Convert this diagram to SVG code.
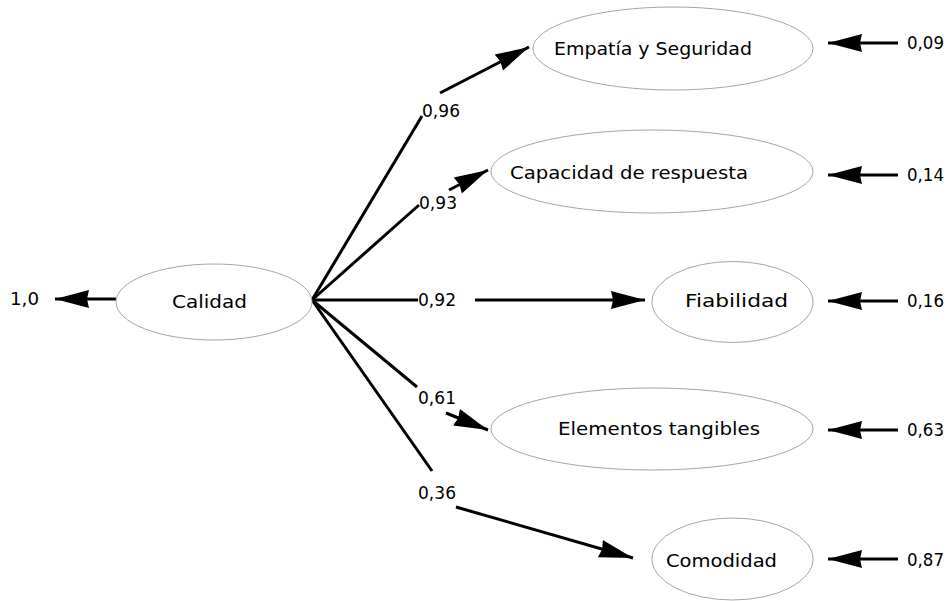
<svg xmlns="http://www.w3.org/2000/svg" width="948" height="601" viewBox="0 0 948 601">
<style>
.node{fill:#fff;stroke:#a6a6a6;stroke-width:1}
.lbl{font-family:"DejaVu Sans","Liberation Sans",sans-serif;font-size:18px;fill:#000}
.num{font-family:"DejaVu Sans","Liberation Sans",sans-serif;font-size:17px;fill:#000}
.c{stroke:#000;stroke-width:3;fill:none}
.ca{stroke:#000;stroke-width:3;fill:none;marker-end:url(#ah)}
</style>
<defs>
<marker id="ah" markerUnits="userSpaceOnUse" markerWidth="36" markerHeight="22" refX="34" refY="11" orient="auto">
<path d="M0,2 L34,11 L0,20 L2,11 Z" fill="#000"/>
</marker>
</defs>
<rect width="948" height="601" fill="#fff"/>
<g id="connectors">
<line class="c" x1="312" y1="300" x2="422" y2="116"/>
<line class="ca" x1="440" y1="93" x2="529" y2="47"/>
<line class="c" x1="312" y1="300" x2="419" y2="205"/>
<line class="ca" x1="449" y1="190" x2="488" y2="170"/>
<line class="c" x1="312" y1="300" x2="418" y2="300"/>
<line class="ca" x1="475" y1="300" x2="645" y2="300"/>
<line class="c" x1="312" y1="300" x2="417" y2="387"/>
<line class="ca" x1="446" y1="413" x2="488" y2="430"/>
<line class="c" x1="312" y1="300" x2="432" y2="471"/>
<line class="ca" x1="456" y1="507" x2="633" y2="558"/>
<line class="ca" x1="116" y1="299" x2="55" y2="299"/>
<line class="ca" x1="898" y1="43" x2="828" y2="43"/>
<line class="ca" x1="898" y1="175" x2="828" y2="175"/>
<line class="ca" x1="898" y1="301" x2="828" y2="301"/>
<line class="ca" x1="898" y1="430" x2="828" y2="430"/>
<line class="ca" x1="898" y1="559" x2="828" y2="559"/>
</g>
<g id="labels">
<text class="num" x="422" y="117" textLength="38" lengthAdjust="spacingAndGlyphs">0,96</text>
<text class="num" x="419" y="209" textLength="38" lengthAdjust="spacingAndGlyphs">0,93</text>
<text class="num" x="418" y="306" textLength="38" lengthAdjust="spacingAndGlyphs">0,92</text>
<text class="num" x="418" y="404" textLength="38" lengthAdjust="spacingAndGlyphs">0,61</text>
<text class="num" x="418" y="499" textLength="38" lengthAdjust="spacingAndGlyphs">0,36</text>
<text class="num" x="10" y="305" textLength="29" lengthAdjust="spacingAndGlyphs">1,0</text>
<text class="num" x="907" y="49" textLength="37" lengthAdjust="spacingAndGlyphs">0,09</text>
<text class="num" x="907" y="181" textLength="37" lengthAdjust="spacingAndGlyphs">0,14</text>
<text class="num" x="907" y="307" textLength="37" lengthAdjust="spacingAndGlyphs">0,16</text>
<text class="num" x="907" y="436" textLength="37" lengthAdjust="spacingAndGlyphs">0,63</text>
<text class="num" x="907" y="566" textLength="37" lengthAdjust="spacingAndGlyphs">0,87</text>
</g>
<g id="calidad">
<ellipse class="node" cx="214" cy="302" rx="98" ry="38"/>
<text class="lbl" x="172" y="308" textLength="75" lengthAdjust="spacingAndGlyphs">Calidad</text>
</g>
<g id="empatia">
<ellipse class="node" cx="673" cy="48.5" rx="140" ry="41.5"/>
<text class="lbl" x="554" y="55" textLength="198" lengthAdjust="spacingAndGlyphs">Empatía y Seguridad</text>
</g>
<g id="capacidad">
<ellipse class="node" cx="652" cy="171.5" rx="161" ry="41.5"/>
<text class="lbl" x="510" y="179" textLength="238" lengthAdjust="spacingAndGlyphs">Capacidad de respuesta</text>
</g>
<g id="fiabilidad">
<ellipse class="node" cx="732.5" cy="302" rx="80.5" ry="40.5"/>
<text class="lbl" x="685" y="307" textLength="103" lengthAdjust="spacingAndGlyphs">Fiabilidad</text>
</g>
<g id="elementos">
<ellipse class="node" cx="652" cy="429" rx="161" ry="41"/>
<text class="lbl" x="558" y="435" textLength="202" lengthAdjust="spacingAndGlyphs">Elementos tangibles</text>
</g>
<g id="comodidad">
<ellipse class="node" cx="732.5" cy="559" rx="80.5" ry="41"/>
<text class="lbl" x="666" y="567" textLength="111" lengthAdjust="spacingAndGlyphs">Comodidad</text>
</g>
</svg>
